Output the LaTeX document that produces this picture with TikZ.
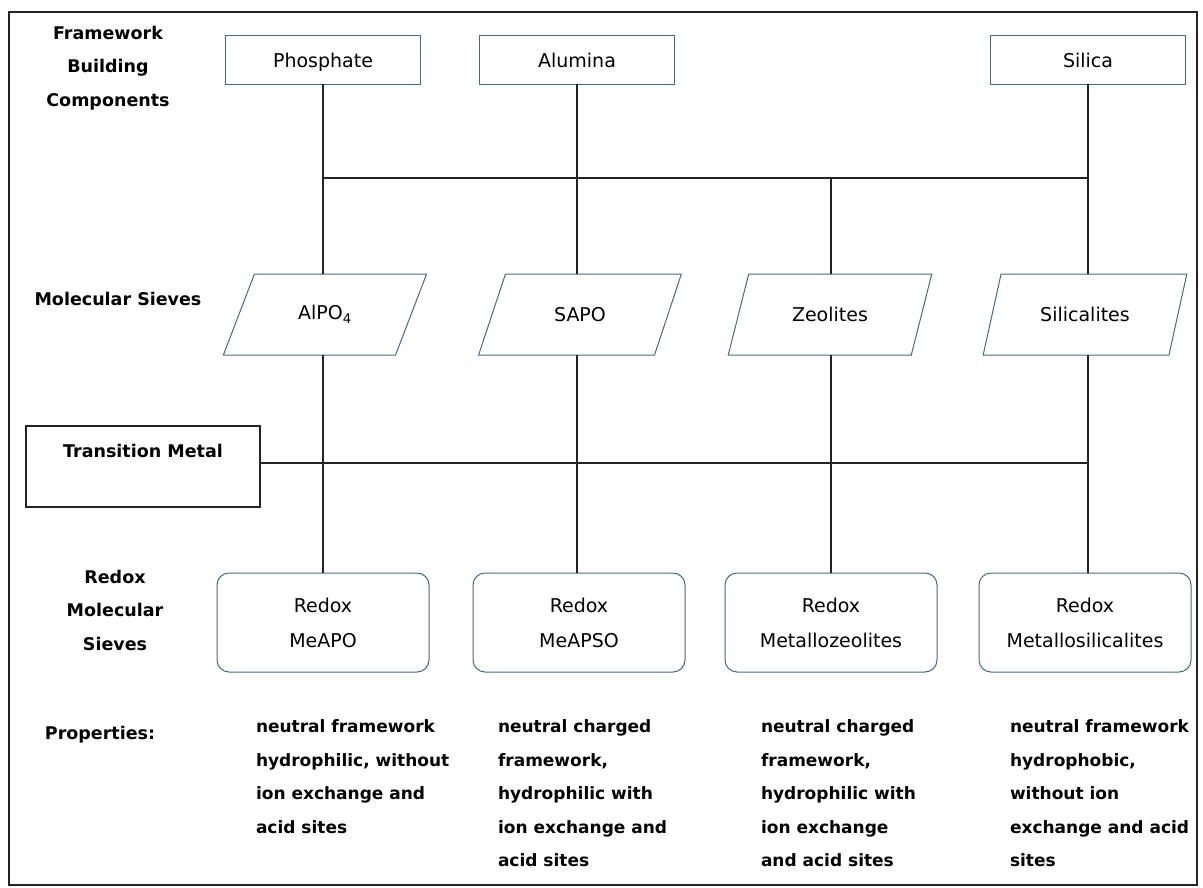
\documentclass[tikz,border=0pt]{standalone}
\usepackage{fontspec}
\setmainfont{DejaVu Sans}
\usetikzlibrary{positioning,shapes.geometric}
\definecolor{boxline}{RGB}{70,108,124}
\definecolor{linegrey}{RGB}{35,35,35}

\begin{document}
\begin{tikzpicture}[x=1pt,y=-1pt,
	every node/.style={inner sep=0pt,outer sep=0pt},
	comp/.style={draw=boxline,line width=1.2pt,fill=white,minimum width=195pt,minimum height=49pt,text height=19pt,text depth=3pt,font=\fontsize{19}{23}\selectfont},
	sieve/.style={trapezium,trapezium left angle=57,trapezium right angle=123,trapezium stretches=true,draw=boxline,line width=1pt,fill=white,minimum width=204pt,minimum height=81pt,font=\fontsize{19}{23}\selectfont},
	redox/.style={draw=boxline,line width=1pt,rounded corners=12pt,fill=white,minimum width=212pt,minimum height=99pt,align=center,font=\fontsize{19}{35}\selectfont},
	heading/.style={align=center,font=\fontsize{17.5}{33.5}\selectfont\bfseries},
	prop/.style={align=left,anchor=north west,font=\fontsize{17}{33.5}\selectfont\bfseries},
]
\useasboundingbox (0,0) rectangle (1203,888);
\draw[line width=1.2pt,linegrey] (9,12) rectangle (1197,885);

	% row labels
	\node [heading] (lblFrame) at (108,68) {Framework\\Building\\Components};
	\node [heading] (lblSieve) at (118,299) {Molecular Sieves};
	\node [heading] (lblRedox) at (115,610) {Redox\\Molecular\\Sieves};
	\node [heading] (lblProp) at (100,735) {Properties:};

	% building components
	\node [comp] (phos) at (323,60) {Phosphate};
	\node [comp] (alum) at (577,60) {Alumina};
	\node [comp] (sili) at (1088,60) {Silica};
	\coordinate (bus) at (0,178);

	% molecular sieves
	\node [sieve] (alpo) at (325,314.5) {AlPO\textsubscript{4}};
	\node [sieve] (sapo) at (580,314.5) {SAPO};
	\node [sieve] (zeol) at (830,314.5) {Zeolites};
	\node [sieve] (silt) at (1085,314.5) {Silicalites};

	% transition metal
	\node [draw=linegrey,line width=1.2pt,minimum width=234pt,minimum height=81pt,
		label={[heading,anchor=north,yshift=-18pt]north:Transition Metal}] (tm) at (143,466.5) {};
	\coordinate (tmout) at ([yshift=3.5pt]tm.east);

	% redox molecular sieves
	\node [redox] (meapo) at (323,622.5) {Redox\\MeAPO};
	\node [redox] (meapso) at (579,622.5) {Redox\\MeAPSO};
	\node [redox] (mzeol) at (831,622.5) {Redox\\Metallozeolites};
	\node [redox] (msili) at (1085,622.5) {Redox\\Metallosilicalites};

	% properties
	\node [prop] (propA) at (256,720) {neutral framework\\hydrophilic, without\\ion exchange and\\acid sites};
	\node [prop] (propB) at (498,720) {neutral charged\\framework,\\hydrophilic with\\ion exchange and\\acid sites};
	\node [prop] (propC) at (761,720) {neutral charged\\framework,\\hydrophilic with\\ion exchange\\and acid sites};
	\node [prop] (propD) at (1010,720) {neutral framework\\hydrophobic,\\without ion\\exchange and acid\\sites};

	\begin{scope}[line width=1.2pt,draw=linegrey]
		\path (phos.south) edge (phos.south |- alpo.north);
		\path (alum.south) edge (alum.south |- sapo.north);
		\path (sili.south) edge (sili.south |- silt.north);
		\path (phos |- bus) edge (sili |- bus);
		\path (mzeol |- bus) edge (mzeol |- zeol.north);
		\path (tmout) edge (tmout -| sili);
		\path (phos |- alpo.south) edge (meapo.north);
		\path (alum |- sapo.south) edge (alum |- meapso.north);
		\path (mzeol |- zeol.south) edge (mzeol.north);
		\path (sili |- silt.south) edge (sili |- msili.north);
	\end{scope}
\end{tikzpicture}
\end{document}
